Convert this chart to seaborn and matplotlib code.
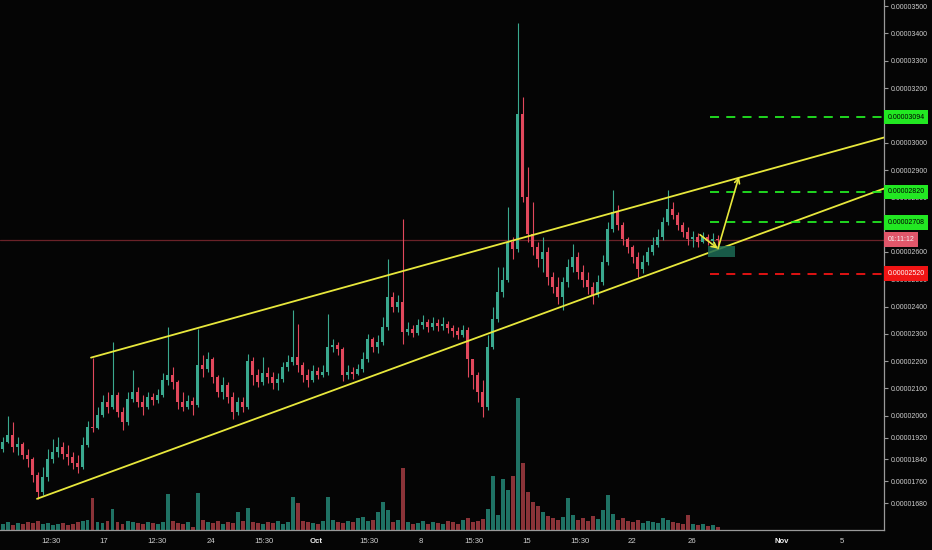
import matplotlib
matplotlib.use("Agg")
import matplotlib.pyplot as plt
import matplotlib.transforms as mtransforms
from matplotlib.patches import Rectangle
from matplotlib.ticker import FuncFormatter
import numpy as np
import pandas as pd
import seaborn as sns

# prices in satoshi (1e-8), one candle per bar
open0 = 1880
close = [1905, 1931, 1887, 1898, 1857, 1843, 1784, 1722, 1777, 1843,
         1869, 1887, 1861, 1850, 1828, 1813, 1894, 1960, 1955, 2004,
         2051, 2033, 2077, 2015, 1979, 2063, 2088, 2051, 2033, 2070,
         2059, 2077, 2132, 2150, 2125, 2051, 2033, 2055, 2040, 2187,
         2173, 2209, 2143, 2088, 2113, 2070, 2015, 2051, 2033, 2201,
         2150, 2125, 2158, 2143, 2121, 2136, 2180, 2198, 2216, 2187,
         2150, 2132, 2165, 2150, 2161, 2253, 2260, 2246, 2150, 2161,
         2154, 2172, 2209, 2282, 2253, 2271, 2326, 2436, 2399, 2418,
         2308, 2319, 2304, 2334, 2345, 2326, 2341, 2330, 2337, 2323,
         2312, 2297, 2315, 2209, 2150, 2088, 2033, 2253, 2356, 2454,
         2498, 2638, 2612, 3106, 2802, 2667, 2619, 2575, 2601, 2509,
         2473, 2436, 2491, 2546, 2583, 2528, 2498, 2473, 2443, 2491,
         2564, 2685, 2748, 2700, 2649, 2619, 2583, 2539, 2564, 2601,
         2627, 2656, 2711, 2758, 2737, 2700, 2674, 2649, 2656, 2638,
         2656, 2641, 2649, 2645]
high = [1923, 2000, 1978, 1923, 1905, 1879, 1850, 1795, 1813, 1879,
        1916, 1923, 1905, 1894, 1869, 1857, 1923, 1982, 2213, 2033,
        2077, 2088, 2271, 2088, 2033, 2088, 2169, 2106, 2077, 2088,
        2084, 2099, 2158, 2326, 2180, 2132, 2088, 2077, 2070, 2319,
        2224, 2235, 2216, 2150, 2143, 2125, 2088, 2070, 2070, 2227,
        2216, 2172, 2216, 2180, 2161, 2158, 2198, 2224, 2388, 2337,
        2198, 2172, 2187, 2180, 2187, 2374, 2282, 2271, 2253, 2187,
        2180, 2191, 2235, 2301, 2290, 2297, 2363, 2575, 2454, 2443,
        2722, 2345, 2334, 2356, 2370, 2356, 2363, 2356, 2363, 2348,
        2334, 2326, 2334, 2326, 2209, 2161, 2132, 2297, 2399, 2546,
        2546, 2766, 2656, 3440, 3169, 2912, 2784, 2638, 2656, 2619,
        2528, 2509, 2509, 2575, 2630, 2601, 2553, 2528, 2491, 2517,
        2590, 2711, 2828, 2773, 2711, 2656, 2627, 2601, 2590, 2619,
        2656, 2685, 2729, 2828, 2784, 2748, 2711, 2693, 2678, 2671,
        2674, 2667, 2671, 2663]
low = [1869, 1901, 1869, 1857, 1843, 1813, 1758, 1696, 1711, 1762,
       1828, 1850, 1843, 1821, 1806, 1791, 1806, 1887, 1942, 1953,
       1997, 2011, 2026, 1997, 1949, 1967, 2051, 2033, 2004, 2026,
       2040, 2048, 2070, 2114, 2099, 2026, 2018, 2026, 2004, 2033,
       2143, 2161, 2121, 2070, 2062, 2048, 1989, 2004, 2015, 2026,
       2114, 2106, 2114, 2121, 2099, 2095, 2125, 2165, 2187, 2161,
       2125, 2106, 2125, 2136, 2143, 2150, 2235, 2224, 2128, 2136,
       2136, 2150, 2161, 2198, 2235, 2231, 2260, 2315, 2381, 2381,
       2264, 2297, 2290, 2297, 2319, 2308, 2315, 2312, 2315, 2304,
       2290, 2282, 2290, 2143, 2099, 2051, 1997, 2022, 2246, 2345,
       2436, 2491, 2575, 2600, 2784, 2638, 2590, 2546, 2528, 2480,
       2451, 2410, 2388, 2473, 2528, 2502, 2473, 2447, 2410, 2436,
       2480, 2553, 2674, 2682, 2627, 2597, 2561, 2509, 2524, 2553,
       2590, 2619, 2645, 2700, 2722, 2682, 2656, 2627, 2619, 2619,
       2634, 2627, 2630, 2619]
volume = [6, 8, 5, 7, 6, 8, 7, 9, 6, 7,
          5, 6, 7, 5, 6, 8, 9, 10, 32, 8,
          7, 9, 21, 8, 6, 9, 8, 7, 6, 8,
          7, 6, 8, 36, 9, 7, 6, 8, 3, 37,
          10, 8, 7, 9, 6, 8, 7, 18, 9, 22,
          8, 7, 6, 8, 7, 9, 6, 8, 33, 27,
          9, 8, 7, 6, 9, 33, 10, 8, 7, 9,
          8, 12, 13, 9, 10, 18, 28, 20, 8, 10,
          62, 8, 6, 7, 9, 6, 8, 7, 6, 9,
          8, 6, 10, 12, 8, 9, 11, 21, 54, 15,
          51, 40, 54, 132, 67, 38, 28, 24, 18, 14,
          12, 10, 13, 32, 15, 10, 12, 9, 14, 11,
          20, 35, 16, 10, 12, 9, 8, 10, 7, 9,
          8, 7, 12, 10, 8, 7, 6, 15, 6, 5,
          6, 4, 5, 3]

# drawings (bar index, price)
upper_x, upper_y = [17.7, 176.3], [2213, 3019]
lower_x, lower_y = [6.9, 176.3], [1696, 2832]
arrow_pts = [(139.5, 2663), (143.1, 2612), (147.3, 2876)]
zone_x, zone_y = (141.1, 146.5), (2583, 2623)
target_levels = [3094, 2820, 2708]
stop_level = 2520
level_start = 141.5
countdown = "01:11:12"

# 3100 and 2700 sit fully behind the price tags, so they are left out
price_ticks = [1680, 1760, 1840, 1920, 2000, 2100, 2200, 2300, 2400, 2500,
               2600, 2800, 2900, 3000, 3200, 3300, 3400, 3500]
time_pos = [9.7, 20.3, 30.9, 41.7, 52.3, 62.7, 73.3, 83.7, 94.3, 104.9,
            115.5, 125.9, 137.9, 155.9, 167.9]
time_labels = ["12:30", "17", "12:30", "24", "15:30", "Oct", "15:30", "8",
               "15:30", "15", "15:30", "22", "26", "Nov", "5"]

BG = "#050505"
UP, DN = "#3aa98f", "#e2485c"
VOL_UP, VOL_DN = "#1f7264", "#8a3338"
YEL = "#e8e83c"
GRN, RED = "#22e822", "#f01414"
TXT = "#cfcfcf"

sns.set_theme(style="dark", rc={"axes.facecolor": BG, "figure.facecolor": BG,
                                "axes.grid": False})
plt.rcParams["font.family"] = ["Liberation Sans", "DejaVu Sans"]

close = np.array(close, dtype=float)
open_ = np.r_[open0, close[:-1]]
high = np.maximum(np.array(high, dtype=float), np.maximum(open_, close))
low = np.minimum(np.array(low, dtype=float), np.minimum(open_, close))
idx = np.arange(len(close))
up = close >= open_

fig = plt.figure(figsize=(9.32, 5.5), dpi=100, facecolor=BG)
ax = fig.add_axes([0, 20 / 550, 884 / 932, 530 / 550])
axv = ax.twinx()
ax.set_zorder(axv.get_zorder() + 1)
ax.patch.set_visible(False)
axv.patch.set_facecolor(BG)

# volume histogram
df = pd.DataFrame({"bar": idx, "volume": volume,
                   "dir": np.where(up, "up", "down")})
sns.barplot(data=df, x="bar", y="volume", hue="dir", native_scale=True,
            palette={"up": VOL_UP, "down": VOL_DN}, dodge=False, width=0.8,
            saturation=1, errorbar=None, legend=False, ax=axv,
            edgecolor="none", linewidth=0)
axv.set_ylim(0, max(volume) * 4.0)
axv.set_yticks([])
axv.set_xlabel("")
axv.set_ylabel("")
for s in axv.spines.values():
    s.set_visible(False)

# candles
for mask, col in ((up, UP), (~up, DN)):
    ax.vlines(idx[mask], low[mask], high[mask], color=col, lw=0.8, zorder=3)
    body = np.maximum(np.abs(close - open_), 4)[mask]
    ax.bar(idx[mask], body, bottom=np.minimum(open_, close)[mask], width=0.6,
           color=col, linewidth=0, zorder=3)

xmin, xmax = -0.5, 176.3
ax.set_xlim(xmin, xmax)
ax.set_ylim(1581.8, 3522.5)

# last price line
ax.axhline(close[-1], color="#6a2228", lw=0.9, zorder=1)

# channel
ax.plot(upper_x, upper_y, color=YEL, lw=1.3, zorder=4)
ax.plot(lower_x, lower_y, color=YEL, lw=1.3, zorder=4)

# target zone and arrows
ax.add_patch(Rectangle((zone_x[0], zone_y[0]), zone_x[1] - zone_x[0],
                       zone_y[1] - zone_y[0], fc="#1c6a55", ec="none",
                       alpha=0.85, zorder=4))
for a, b in zip(arrow_pts[:-1], arrow_pts[1:]):
    ax.annotate("", xy=b, xytext=a, zorder=5,
                arrowprops=dict(arrowstyle="->", color=YEL, lw=1.2,
                                mutation_scale=9, shrinkA=0, shrinkB=0))

ax.hlines(target_levels, level_start, xmax, colors=GRN, lw=1.3,
          linestyles=(0, (5, 4)), zorder=4)
ax.hlines(stop_level, level_start, xmax, colors=RED, lw=1.3,
          linestyles=(0, (5, 4)), zorder=4)

# axes styling
ax.yaxis.tick_right()
ax.set_yticks(price_ticks)
ax.yaxis.set_major_formatter(FuncFormatter(lambda v, _: f"{v * 1e-8:.8f}"))
ax.set_xticks(time_pos, time_labels)
ax.tick_params(axis="both", colors="#9a9a9a", labelcolor=TXT, labelsize=5.6,
               length=3, width=0.8, pad=3)
ax.tick_params(axis="y", left=False, right=True, labelsize=5.0, pad=2)
for lab in ax.get_xticklabels():
    if lab.get_text() in ("Oct", "Nov"):
        lab.set_fontweight("bold")
        lab.set_color("#f0f0f0")
for side in ("top", "left"):
    ax.spines[side].set_visible(False)
for side in ("bottom", "right"):
    ax.spines[side].set_visible(True)
    ax.spines[side].set_color("#9a9a9a")
    ax.spines[side].set_linewidth(0.9)
ax.set_xlabel("")
ax.set_ylabel("")

# price tags on the scale
trans = mtransforms.blended_transform_factory(ax.transAxes, ax.transData)
tag = dict(transform=trans, ha="left", va="center", fontsize=5.0,
           clip_on=False, zorder=10)
for lvl in target_levels:
    ax.text(1.004, lvl, f"{lvl * 1e-8:.8f}", color="black",
            bbox=dict(boxstyle="square,pad=0.55", fc=GRN, ec="none"), **tag)
ax.text(1.004, stop_level, f"{stop_level * 1e-8:.8f}", color="white",
        bbox=dict(boxstyle="square,pad=0.55", fc=RED, ec="none"), **tag)
ax.text(1.004, close[-1], countdown, color="#f4f4f4",
        bbox=dict(boxstyle="square,pad=0.55", fc="#e0566a", ec="none"), **tag)

fig.savefig("out.png", dpi=100, facecolor=BG)
